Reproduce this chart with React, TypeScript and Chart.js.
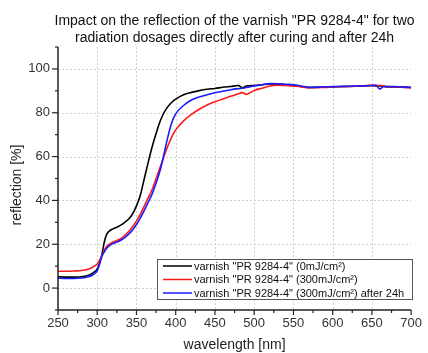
import React, { useEffect, useRef } from "react";
import { Chart, registerables } from "chart.js";

Chart.register(...registerables);

const wavelengths = [
  250, 260, 270, 280, 290, 295, 300, 303, 306, 309, 312, 316, 320, 325, 330, 335, 340, 345, 350, 355,
  360, 365, 370, 375, 380, 385, 390, 395, 400, 410, 420, 430, 440, 450, 460, 470, 480, 485, 490, 500,
  510, 520, 530, 540, 550, 560, 570, 580, 590, 600, 610, 620, 630, 640, 650, 655, 660, 665, 670, 680,
  690, 700,
];

const dose0 = [
  5.2, 5.0, 5.0, 5.2, 6.0, 7.0, 8.8, 11.5, 15.5, 21, 24.5, 26.2, 27, 27.8, 28.7, 30, 31.5, 33.8, 37.5, 42.5,
  50, 57.5, 64.5, 70.5, 76, 80, 82.8, 84.8, 86.2, 88.2, 89.3, 90.1, 90.7, 91.1, 91.6, 92, 92.4, 91.4, 92.2, 92.4,
  92.8, 93.1, 93, 92.8, 92.5, 92, 91.5, 91.6, 91.7, 91.8, 92, 92, 92.1, 92.2, 92.4, 92.2, 92.2, 92, 91.8, 91.8,
  91.7, 91.5,
];

const dose300 = [
  7.7, 7.7, 7.8, 8.0, 8.8, 9.7, 11, 12.8, 15, 17.3, 19, 20.2, 21, 21.7, 22.5, 24, 25.8, 28, 30.7, 33.8,
  37.5, 41.3, 45, 50, 55, 60, 64.8, 69, 72.2, 76.3, 79.3, 81.6, 83.5, 85, 86.3, 87.5, 88.7, 89.2, 88.4, 90.2,
  91.2, 92.2, 92.6, 92.4, 92.2, 91.8, 91.4, 91.5, 91.6, 91.8, 91.9, 92, 92.1, 92.3, 92.5, 92.3, 92.5, 92.2, 91.9, 91.8,
  91.6, 91.4,
];

const dose300after24h = [
  4.6, 4.4, 4.4, 4.6, 5.3, 6.2, 7.8, 11, 14.5, 16.5, 18.2, 19.5, 20.3, 21, 21.8, 23, 24.6, 26.5, 29, 32,
  35.5, 39.2, 43, 48, 53.5, 61, 69, 75.5, 79.5, 83.3, 85.8, 87.2, 88.2, 89.1, 89.8, 90.5, 91, 91.2, 91.5, 92.2,
  92.8, 93.3, 93.2, 93, 92.8, 92.2, 91.6, 91.7, 91.8, 91.9, 92, 92.1, 92.2, 92.3, 92.4, 92.6, 90.8, 92, 92, 91.9,
  91.8, 91.5,
];

const seriesLabels = [
  'varnish "PR 9284-4" (0mJ/cm²)',
  'varnish "PR 9284-4" (300mJ/cm²)',
  'varnish "PR 9284-4" (300mJ/cm²) after 24h',
];
const seriesColors = ["#000000", "#ff1a1a", "#1a1aff"];

const titleLines = [
  'Impact on the reflection of the varnish "PR 9284-4" for two',
  "radiation dosages directly after curing and after 24h",
];
const xTitle = "wavelength [nm]";
const yTitle = "reflection [%]";

const X_MIN = 250;
const X_MAX = 700;
const Y_MIN = -10;
const Y_MAX = 110;

const FONT = '"Liberation Sans", Arial, Helvetica, sans-serif';

const decorPlugin = {
  id: "decor",
  beforeDatasetsDraw(chart: any) {
    const { ctx, chartArea, scales } = chart;
    const xs = scales.x;
    const ys = scales.y;
    ctx.save();
    ctx.strokeStyle = "#cfcfcf";
    ctx.lineWidth = 1;
    ctx.setLineDash([2, 2]);
    for (let v = 300; v < X_MAX; v += 50) {
      const px = Math.round(xs.getPixelForValue(v)) + 0.5;
      ctx.beginPath();
      ctx.moveTo(px, chartArea.top);
      ctx.lineTo(px, chartArea.bottom);
      ctx.stroke();
    }
    for (let v = 0; v <= 100; v += 20) {
      const py = Math.round(ys.getPixelForValue(v)) + 0.5;
      ctx.beginPath();
      ctx.moveTo(chartArea.left, py);
      ctx.lineTo(chartArea.right, py);
      ctx.stroke();
    }
    ctx.restore();
  },
  afterDatasetsDraw(chart: any) {
    const { ctx, chartArea, scales } = chart;
    const xs = scales.x;
    const ys = scales.y;
    ctx.save();
    // axis lines
    ctx.strokeStyle = "#222";
    ctx.lineWidth = 1.5;
    ctx.beginPath();
    ctx.moveTo(chartArea.left, chartArea.top);
    ctx.lineTo(chartArea.left, chartArea.bottom);
    ctx.lineTo(chartArea.right, chartArea.bottom);
    ctx.stroke();
    // tick marks
    ctx.lineWidth = 1.2;
    for (let v = X_MIN; v <= X_MAX; v += 25) {
      const px = xs.getPixelForValue(v);
      const len = v % 50 === 0 ? 5 : 3;
      ctx.beginPath();
      ctx.moveTo(px, chartArea.bottom);
      ctx.lineTo(px, chartArea.bottom + len);
      ctx.stroke();
    }
    for (let v = Y_MIN; v <= Y_MAX; v += 10) {
      const py = ys.getPixelForValue(v);
      const len = v % 20 === 0 ? 6 : 3;
      ctx.beginPath();
      ctx.moveTo(chartArea.left, py);
      ctx.lineTo(chartArea.left - len, py);
      ctx.stroke();
    }

    // legend
    const lx = 157;
    const ly = 259;
    const lw = 255;
    const lh = 40;
    ctx.fillStyle = "#ffffff";
    ctx.fillRect(lx, ly, lw, lh);
    ctx.strokeStyle = "#555";
    ctx.lineWidth = 1;
    ctx.strokeRect(lx + 0.5, ly + 0.5, lw, lh);
    const rows = [266, 279.5, 293];
    ctx.font = `11px ${FONT}`;
    ctx.textBaseline = "middle";
    ctx.textAlign = "left";
    seriesLabels.forEach((label, i) => {
      ctx.strokeStyle = seriesColors[i];
      ctx.lineWidth = 1.5;
      ctx.beginPath();
      ctx.moveTo(163, rows[i]);
      ctx.lineTo(192, rows[i]);
      ctx.stroke();
      ctx.fillStyle = "#111";
      ctx.fillText(label, 194, rows[i] + 0.5);
    });

    // chart title
    const cx = (chartArea.left + chartArea.right) / 2;
    ctx.fillStyle = "#111";
    ctx.font = `14px ${FONT}`;
    ctx.textAlign = "center";
    ctx.textBaseline = "alphabetic";
    ctx.fillText(titleLines[0], cx, 24.5);
    ctx.fillText(titleLines[1], cx, 42);

    // axis titles
    ctx.fillStyle = "#222";
    ctx.fillText(xTitle, cx, 349);
    ctx.save();
    ctx.translate(21, 185);
    ctx.rotate(-Math.PI / 2);
    ctx.fillText(yTitle, 0, 0);
    ctx.restore();

    ctx.restore();
  },
};

export default function App() {
  const canvasRef = useRef<HTMLCanvasElement | null>(null);

  useEffect(() => {
    document.body.style.margin = "0";
    const canvas = canvasRef.current;
    if (!canvas) return;
    const makeData = (ys: number[]) => wavelengths.map((x, i) => ({ x, y: ys[i] }));
    const allSeries = [dose0, dose300, dose300after24h];
    const chart = new Chart(canvas, {
      type: "line",
      data: {
        datasets: allSeries.map((s, i) => ({
          label: seriesLabels[i],
          data: makeData(s),
          borderColor: seriesColors[i],
          backgroundColor: seriesColors[i],
          borderWidth: 1.6,
          pointRadius: 0,
          cubicInterpolationMode: "monotone" as const,
          fill: false,
          order: 2 - i,
        })),
      },
      options: {
        animation: false,
        responsive: false,
        maintainAspectRatio: false,
        devicePixelRatio: 1,
        layout: { padding: { top: 47, right: 12, left: 0, bottom: 0 } },
        plugins: {
          legend: { display: false },
          title: { display: false },
          tooltip: { enabled: false },
        },
        scales: {
          x: {
            type: "linear",
            min: X_MIN,
            max: X_MAX,
            grid: { display: false, drawTicks: false, tickLength: 0 },
            border: { display: false },
            ticks: {
              stepSize: 25,
              autoSkip: false,
              maxRotation: 0,
              padding: 6,
              color: "#333",
              font: { family: FONT, size: 13 },
              callback: (v: any) => (Number(v) % 50 === 0 ? String(v) : ""),
            },
            afterFit: (s: any) => {
              s.height = 43;
            },
          },
          y: {
            type: "linear",
            min: Y_MIN,
            max: Y_MAX,
            grid: { display: false, drawTicks: false, tickLength: 0 },
            border: { display: false },
            ticks: {
              stepSize: 10,
              autoSkip: false,
              padding: 8,
              color: "#333",
              font: { family: FONT, size: 13 },
              callback: (v: any) => {
                const n = Number(v);
                return n % 20 === 0 && n >= 0 && n <= 100 ? String(n) : "";
              },
            },
            afterFit: (s: any) => {
              s.width = 58;
            },
          },
        },
      },
      plugins: [decorPlugin],
    });
    return () => chart.destroy();
  }, []);

  return (
    <div style={{ position: "relative", width: 428, height: 353 }}>
      <canvas ref={canvasRef} width={428} height={353} style={{ display: "block" }} />
    </div>
  );
}
